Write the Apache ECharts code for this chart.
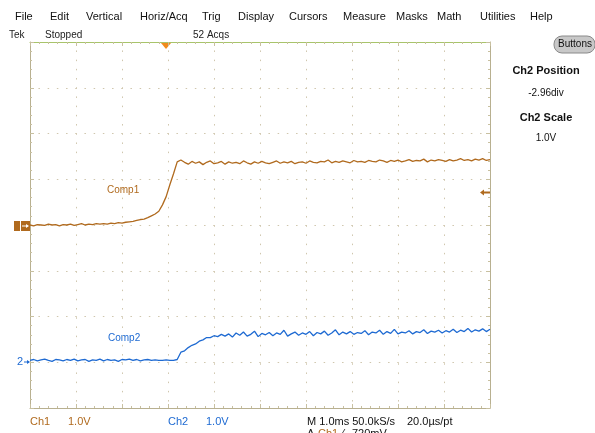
<!DOCTYPE html>
<html><head><meta charset="utf-8">
<script src="https://cdn.jsdelivr.net/npm/echarts@6/dist/echarts.min.js"></script>
<style>html,body{margin:0;padding:0;background:#fff}#c{width:595px;height:433px}</style>
</head><body><div id="c"></div>
<script>
// ---- data ----
var sampleIntervalMs = 0.08;           // horizontal sample spacing (ms)
var ch1PositionDiv = 0;                // Ch1 vertical position (div)
var ch2PositionDiv = -2.96;            // Ch2 vertical position (div)
var ch1Volts = [
  0.00,-0.02,0.01,0.00,-0.01,0.02,0.00,0.01,-0.02,0.01,0.00,0.02,-0.01,0.01,
  0.03,0.00,0.02,0.01,0.03,0.02,0.03,0.02,0.04,0.03,0.05,0.04,0.06,0.07,
  0.08,0.10,0.12,0.13,0.16,0.20,0.24,0.30,0.44,0.62,0.88,1.12,1.38,1.42,
  1.37,1.33,1.39,1.35,1.38,1.32,1.37,1.40,1.34,1.36,1.39,1.33,1.38,1.35,
  1.37,1.34,1.40,1.36,1.33,1.38,1.35,1.39,1.36,1.34,1.37,1.40,1.35,1.38,
  1.36,1.39,1.34,1.37,1.38,1.35,1.40,1.37,1.36,1.39,1.38,1.42,1.36,1.39,
  1.37,1.40,1.38,1.36,1.41,1.38,1.39,1.37,1.41,1.39,1.38,1.42,1.40,1.37,
  1.41,1.39,1.42,1.38,1.40,1.43,1.39,1.41,1.40,1.44,1.38,1.42,1.40,1.43,
  1.41,1.39,1.43,1.40,1.42,1.45,1.41,1.43,1.40,1.44,1.42,1.45,1.41,1.43
];
var ch2Volts = [
  0.00,0.02,-0.01,0.01,0.03,0.00,-0.02,0.02,0.01,-0.01,0.02,0.00,0.03,-0.01,
  0.01,0.02,-0.02,0.01,0.00,0.03,-0.01,0.02,0.00,0.01,-0.02,0.02,0.01,0.03,
  0.00,0.02,-0.01,0.01,0.02,0.00,0.01,0.00,0.00,0.01,0.00,0.00,
  0.02,0.18,0.21,0.28,0.33,0.36,0.42,0.45,0.50,0.50,0.54,0.52,0.57,0.53,
  0.58,0.51,0.60,0.55,0.62,0.53,0.57,0.64,0.52,0.59,0.56,0.61,
  0.54,0.60,0.57,0.66,0.53,0.58,0.62,0.55,0.60,0.57,0.63,0.54,
  0.61,0.58,0.64,0.55,0.60,0.67,0.56,0.62,0.58,0.63,0.57,0.61,
  0.59,0.65,0.56,0.62,0.60,0.66,0.57,0.63,0.59,0.68,0.58,0.62,
  0.60,0.65,0.58,0.63,0.61,0.67,0.59,0.64,0.62,0.66,0.60,0.65,
  0.62,0.68,0.61,0.66,0.63,0.70,0.62,0.67,0.64,0.69,0.63,0.68
];
var ch1Label = 'Comp1', ch2Label = 'Comp2';
var menuItems = ['File','Edit','Vertical','Horiz/Acq','Trig','Display','Cursors','Measure','Masks','Math','Utilities','Help'];
var menuX = [15,50,86,140,202,238,289,343,396,437,480,530];

// ---- build ----
var C1 = '#b06a1e', C2 = '#1e6ad2';
var volts1PerDiv = 1.0, volts2PerDiv = 1.0;
function toSeries(v, pos, vpd){ return v.map(function(y,i){ return [i*sampleIntervalMs, y/vpd + pos]; }); }
var F = '"Liberation Sans", Arial, sans-serif';
var chart = echarts.init(document.getElementById('c'), null, {renderer:'canvas'});
var gfx = [];
menuItems.forEach(function(m,i){ gfx.push({type:'text', left:menuX[i], top:11, style:{text:m, font:'11px '+F, fill:'#111'}}); });
gfx.push({type:'text', left:9, top:30, style:{text:'Tek', font:'10px '+F, fill:'#222'}});
gfx.push({type:'text', left:45, top:30, style:{text:'Stopped', font:'10px '+F, fill:'#222'}});
gfx.push({type:'text', left:193, top:30, style:{text:'52 Acqs', font:'10px '+F, fill:'#222'}});
gfx.push({type:'rect', shape:{x:554, y:36, width:41, height:17, r:8}, style:{fill:'#c8c8c8', stroke:'#8a8a8a', lineWidth:1}});
gfx.push({type:'text', x:575, y:44.5, style:{text:'Buttons', font:'10px '+F, fill:'#111', align:'center', verticalAlign:'middle'}});
gfx.push({type:'text', x:546, y:71, style:{text:'Ch2 Position', font:'bold 11px '+F, fill:'#111', align:'center', verticalAlign:'middle'}});
gfx.push({type:'text', x:546, y:93, style:{text:'-2.96div', font:'10px '+F, fill:'#111', align:'center', verticalAlign:'middle'}});
gfx.push({type:'text', x:546, y:118, style:{text:'Ch2 Scale', font:'bold 11px '+F, fill:'#111', align:'center', verticalAlign:'middle'}});
gfx.push({type:'text', x:546, y:138, style:{text:'1.0V', font:'10px '+F, fill:'#111', align:'center', verticalAlign:'middle'}});
// bottom status
gfx.push({type:'text', left:30, top:416, style:{text:'Ch1', font:'11px '+F, fill:C1}});
gfx.push({type:'text', left:68, top:416, style:{text:'1.0V', font:'11px '+F, fill:C1}});
gfx.push({type:'text', left:168, top:416, style:{text:'Ch2', font:'11px '+F, fill:C2}});
gfx.push({type:'text', left:206, top:416, style:{text:'1.0V', font:'11px '+F, fill:C2}});
gfx.push({type:'text', left:307, top:416, style:{text:'M 1.0ms 50.0kS/s', font:'11px '+F, fill:'#111'}});
gfx.push({type:'text', left:407, top:416, style:{text:'20.0\u00b5s/pt', font:'11px '+F, fill:'#111'}});
gfx.push({type:'text', left:307, top:428, style:{text:'A', font:'11px '+F, fill:'#111'}});
gfx.push({type:'text', left:318, top:428, style:{text:'Ch1', font:'11px '+F, fill:C1}});
gfx.push({type:'text', left:342, top:428, style:{text:'\u2044', font:'11px '+F, fill:'#111'}});
gfx.push({type:'text', left:352, top:428, style:{text:'720mV', font:'11px '+F, fill:'#111'}});
// channel markers
gfx.push({type:'rect', shape:{x:14, y:221, width:6, height:10}, style:{fill:C1}});
gfx.push({type:'rect', shape:{x:21, y:221, width:9, height:10}, style:{fill:C1}});
gfx.push({type:'line', shape:{x1:22, y1:226, x2:28, y2:226}, style:{stroke:'#fff', lineWidth:1}});
gfx.push({type:'polygon', shape:{points:[[26,224],[29,226],[26,228]]}, style:{fill:'#fff'}});
gfx.push({type:'text', x:20, y:362, style:{text:'2', font:'11px '+F, fill:C2, align:'center', verticalAlign:'middle'}});
gfx.push({type:'line', shape:{x1:24, y1:362, x2:29, y2:362}, style:{stroke:C2, lineWidth:1}});
gfx.push({type:'polygon', shape:{points:[[27,360],[30,362],[27,364]]}, style:{fill:C2}});
// trigger markers
gfx.push({type:'polygon', shape:{points:[[161,43],[171,43],[166,49]]}, style:{fill:'#f08a1c'}});
gfx.push({type:'line', shape:{x1:482, y1:192.5, x2:490, y2:192.5}, style:{stroke:C1, lineWidth:2}});
gfx.push({type:'polygon', shape:{points:[[480,192.5],[484,189.5],[484,195.5]]}, style:{fill:C1}});
// trace labels
gfx.push({type:'text', left:107, top:185, style:{text:ch1Label, font:'10px '+F, fill:C1}});
gfx.push({type:'text', left:108, top:333, style:{text:ch2Label, font:'10px '+F, fill:C2}});

var gridDot = {show:true, lineStyle:{color:'#cfc6ad', width:1, type:[1.5,7.7], dashOffset:0.75}};
function axisCommon(color){
  return {
    axisLine:{show:true, onZero:false, lineStyle:{color:color, width:1}},
    axisTick:{show:true, inside:true, length:4, lineStyle:{color:'#c8c0a0'}},
    minorTick:{show:true, splitNumber:5, length:2, lineStyle:{color:'#c8c0a0'}},
    axisLabel:{show:false}
  };
}
function ax(base, extra){ var o = axisCommon(extra.lineColor); for (var k in base) o[k]=base[k]; return o; }
var option = {
  animation:false,
  backgroundColor:'#fff',
  grid:{left:30, right:105, top:42, bottom:25, show:false},
  xAxis:[
    ax({type:'value', min:0, max:10, interval:1, position:'bottom', splitLine:gridDot}, {lineColor:'#b8b090'}),
    ax({type:'value', min:0, max:10, interval:1, position:'top', splitLine:{show:false}}, {lineColor:'#a8c46a'})
  ],
  yAxis:[
    ax({type:'value', min:-4, max:4, interval:1, position:'left', splitLine:gridDot}, {lineColor:'#b8b090'}),
    ax({type:'value', min:-4, max:4, interval:1, position:'right', splitLine:{show:false}}, {lineColor:'#b8b090'})
  ],
  series:[
    {type:'line', name:ch1Label, data:toSeries(ch1Volts, ch1PositionDiv, volts1PerDiv), showSymbol:false,
     lineStyle:{color:C1, width:1.3}, itemStyle:{color:C1}},
    {type:'line', name:ch2Label, data:toSeries(ch2Volts, ch2PositionDiv, volts2PerDiv), showSymbol:false,
     lineStyle:{color:C2, width:1.3}, itemStyle:{color:C2}}
  ],
  graphic:gfx
};
chart.setOption(option);
</script></body></html>
